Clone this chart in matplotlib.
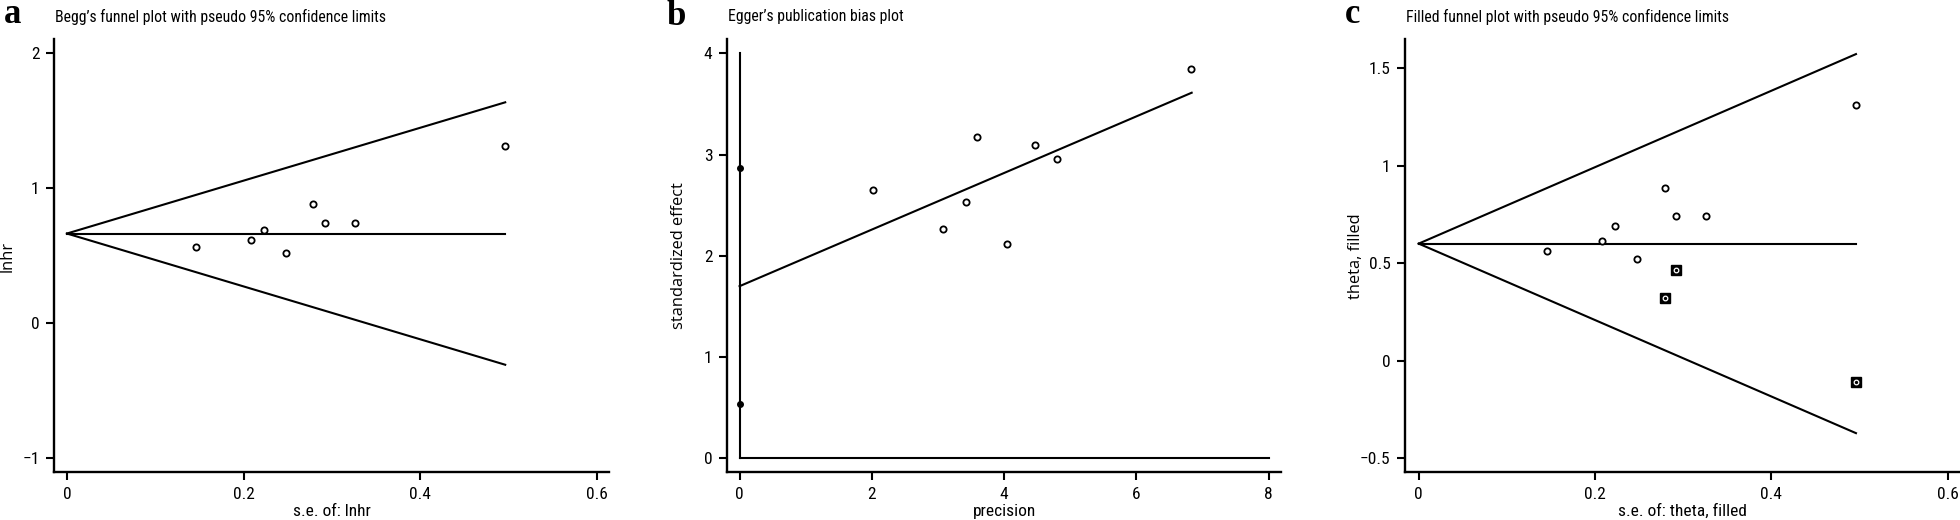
import matplotlib
matplotlib.use("Agg")
import matplotlib.pyplot as plt
from matplotlib import font_manager as fm

# ---------------- data ----------------
se_a = [0.146, 0.208, 0.223, 0.248, 0.279, 0.292, 0.326, 0.496]
lnhr_a = [0.565, 0.615, 0.689, 0.521, 0.887, 0.741, 0.741, 1.313]
theta_a = 0.665

precision_b = [2.018, 3.074, 3.424, 3.583, 4.041, 4.468, 4.806, 6.830]
std_eff_b = [2.650, 2.268, 2.531, 3.173, 2.113, 3.094, 2.959, 3.842]
egger_intercept = 1.70
egger_slope = 0.2795
egger_ci = [0.533, 2.870]
egger_xmax = 6.835

se_c = [0.146, 0.208, 0.223, 0.248, 0.279, 0.292, 0.326, 0.496]
theta_c = [0.565, 0.615, 0.689, 0.521, 0.887, 0.741, 0.741, 1.313]
se_fill = [0.292, 0.279, 0.496]
theta_fill = [0.465, 0.320, -0.108]
theta_c_pool = 0.601

se_max = 0.496
z = 1.96

# ---------------- fonts ----------------
avail = {f.name for f in fm.fontManager.ttflist}
cond = None
for cand in ["Liberation Sans Narrow", "DejaVu Sans Condensed", "Roboto Condensed",
             "Open Sans Condensed", "Liberation Sans"]:
    if cand in avail:
        cond = cand
        break
if cond is None:
    cond = "DejaVu Sans"
wide = "Open Sans" if "Open Sans" in avail else "DejaVu Sans"
serif = "Liberation Serif" if "Liberation Serif" in avail else "DejaVu Serif"

W, H = 1960, 520
fig = plt.figure(figsize=(W / 100, H / 100), dpi=100)

AX_TOP, AX_BOT = 39.3, 472.3


def make_ax(x0, x1, y0=AX_TOP, y1=AX_BOT):
    return fig.add_axes([x0 / W, (H - y1) / H, (x1 - x0) / W, (y1 - y0) / H])


def style(ax, xlabel):
    for s in ["top", "right"]:
        ax.spines[s].set_visible(False)
    for s in ["left", "bottom"]:
        ax.spines[s].set_linewidth(1.7)
        ax.spines[s].set_color("black")
    ax.tick_params(direction="out", length=6, width=1.5, colors="black",
                   labelsize=12.5, pad=4.5)
    for lab in ax.get_xticklabels() + ax.get_yticklabels():
        lab.set_fontfamily(cond)
    ax.text(0.5, -(511.5 - AX_BOT) / (AX_BOT - AX_TOP), xlabel, transform=ax.transAxes,
            ha="center", va="center", fontfamily=cond, fontsize=12.5)


LW = 1.5
circ = dict(marker="o", ms=4.5, mfc="white", mec="black", mew=1.3, ls="none")
TITLE_FS = 11.3
LETTER_FS = 25
YLAB_FS = 11.8
LET_Y = 23

# ---------- panel a ----------
ax = make_ax(54.3, 608.6)
ax.set_xlim(-0.0143, 0.613)
ax.set_ylim(-1.104, 2.104)
ax.plot([0, se_max], [theta_a, theta_a], color="black", lw=LW)
ax.plot([0, se_max], [theta_a, theta_a + z * se_max], color="black", lw=LW)
ax.plot([0, se_max], [theta_a, theta_a - z * se_max], color="black", lw=LW)
ax.plot(se_a, lnhr_a, **circ)
ax.set_xticks([0, 0.2, 0.4, 0.6])
ax.set_xticklabels(["0", "0.2", "0.4", "0.6"])
ax.set_yticks([-1, 0, 1, 2])
ax.set_yticklabels(["\u22121", "0", "1", "2"])
style(ax, "s.e. of: lnhr")
fig.text(8 / W, 1 - 256 / H, "lnhr", rotation=90, ha="center", va="center",
         fontfamily=wide, fontsize=YLAB_FS)
fig.text(55 / W, 1 - 17 / H, "Begg\u2019s funnel plot with pseudo 95% confidence limits",
         ha="left", va="center", fontfamily=cond, fontsize=TITLE_FS)
fig.text(4 / W, 1 - LET_Y / H, "a", ha="left", va="baseline", fontfamily=serif,
         fontweight="bold", fontsize=LETTER_FS)

# ---------- panel b ----------
ax = make_ax(727, 1281.3)
ax.set_xlim(-0.19, 8.19)
ax.set_ylim(-0.138, 4.138)
ax.plot([0, 0], [0, 4], color="black", lw=LW)
ax.plot([0, 8], [0, 0], color="black", lw=LW)
ax.plot([0, egger_xmax], [egger_intercept, egger_intercept + egger_slope * egger_xmax],
        color="black", lw=LW)
ax.plot([0, 0], egger_ci, marker="o", ms=4, mfc="black", mec="black", ls="none")
ax.plot(precision_b, std_eff_b, **circ)
ax.set_xticks([0, 2, 4, 6, 8])
ax.set_yticks([0, 1, 2, 3, 4])
style(ax, "precision")
fig.text(679 / W, 1 - 256 / H, "standardized effect", rotation=90, ha="center",
         va="center", fontfamily=wide, fontsize=YLAB_FS)
fig.text(728 / W, 1 - 17 / H, "Egger\u2019s publication bias plot",
         ha="left", va="center", fontfamily=cond, fontsize=TITLE_FS)
fig.text(666 / W, 1 - (LET_Y + 2) / H, "b", ha="left", va="baseline", fontfamily=serif,
         fontweight="bold", fontsize=LETTER_FS)

# ---------- panel c ----------
ax = make_ax(1405.2, 1960)
ax.set_xlim(-0.0153, 0.614)
ax.set_ylim(-0.572, 1.649)
ax.plot([0, se_max], [theta_c_pool, theta_c_pool], color="black", lw=LW)
ax.plot([0, se_max], [theta_c_pool, theta_c_pool + z * se_max], color="black", lw=LW)
ax.plot([0, se_max], [theta_c_pool, theta_c_pool - z * se_max], color="black", lw=LW)
ax.plot(se_c, theta_c, **circ)
ax.plot(se_fill, theta_fill, marker="s", ms=6.5, mfc="black", mec="black", ls="none")
ax.plot(se_fill, theta_fill, marker="o", ms=3.3, mfc="black", mec="white", mew=0.9,
        ls="none")
ax.set_xticks([0, 0.2, 0.4, 0.6])
ax.set_xticklabels(["0", "0.2", "0.4", "0.6"])
ax.set_yticks([-0.5, 0, 0.5, 1, 1.5])
ax.set_yticklabels(["\u22120.5", "0", "0.5", "1", "1.5"])
style(ax, "s.e. of: theta, filled")
fig.text(1356 / W, 1 - 256 / H, "theta, filled", rotation=90, ha="center",
         va="center", fontfamily=wide, fontsize=YLAB_FS)
fig.text(1406 / W, 1 - 17 / H, "Filled funnel plot with pseudo 95% confidence limits",
         ha="left", va="center", fontfamily=cond, fontsize=TITLE_FS)
fig.text(1345 / W, 1 - LET_Y / H, "c", ha="left", va="baseline", fontfamily=serif,
         fontweight="bold", fontsize=LETTER_FS)

fig.savefig("out.png", dpi=100)
